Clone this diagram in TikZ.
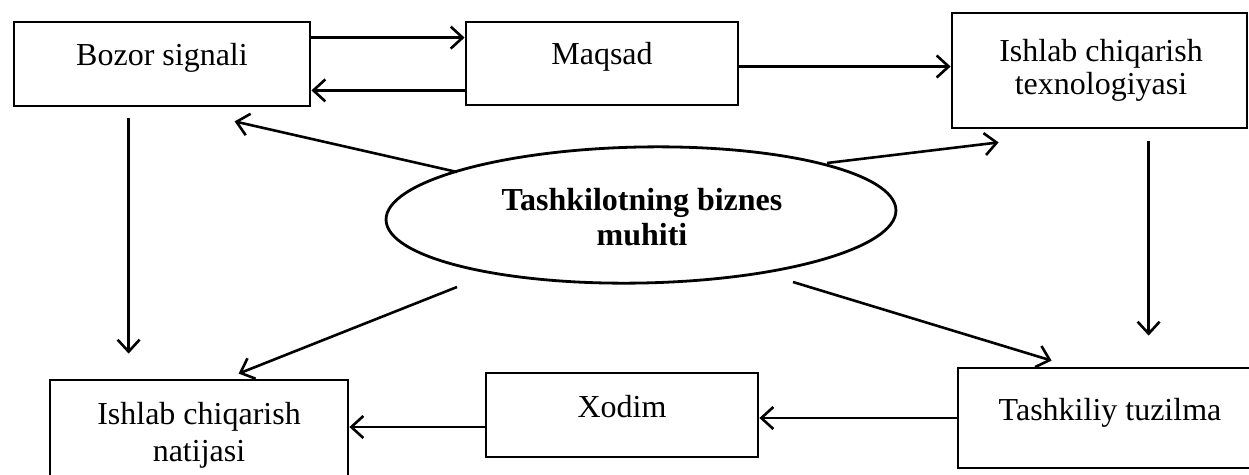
\documentclass[tikz,border=0pt]{standalone}
\usepackage{fontspec}
\setmainfont{Liberation Serif}
\usetikzlibrary{arrows.meta,shapes.geometric,calc}
\begin{document}
\begin{tikzpicture}[x=1pt,y=-1pt,
  box/.style={draw, line width=2.8pt, inner sep=0pt},
  lbl/.style={anchor=base, inner sep=0pt, font=\fontsize{32}{36}\selectfont},
  blbl/.style={lbl, font=\fontsize{32}{36}\selectfont\bfseries},
  arr/.style={line width=2.6pt, -{Straight Barb[length=12pt,width=22pt,line width=2.6pt]}}
]
\path[use as bounding box] (0,0) rectangle (1249,474);
\clip (0,0) rectangle (1249,474);

% boxes
\node[box, minimum width=296pt, minimum height=84pt]  (bozor)    at (162,64)   {};
\node[box, minimum width=272pt, minimum height=83pt]  (maqsad)   at (602,63.5) {};
\node[box, minimum width=295pt, minimum height=115pt] (tex)      at (1099.5,70.5) {};
\node[box, minimum width=298pt, minimum height=110pt] (natijasi) at (199,435)  {};
\node[box, minimum width=272pt, minimum height=84pt]  (xodim)    at (622,415)  {};
\node[box, minimum width=304pt, minimum height=100pt] (tashkiliy) at (1110,418) {};
\node[draw, ellipse, line width=2.8pt, inner sep=0pt, rotate=1.1,
      minimum width=510pt, minimum height=136pt] (env) at (641,215) {};

% labels
\node[lbl] at (162,65)  {Bozor signali};
\node[lbl] at (602,64)  {Maqsad};
\node[lbl] at (1101,61) {Ishlab chiqarish};
\node[lbl] at (1101,94) {texnologiyasi};
\node[lbl] at (199,424) {Ishlab chiqarish};
\node[lbl] at (199,461) {natijasi};
\node[lbl] at (622,417) {Xodim};
\node[lbl] at (1110,420) {Tashkiliy tuzilma};
\node[blbl] at (642,210) {Tashkilotning biznes};
\node[blbl] at (642,245) {muhiti};

% connectors between the top boxes
\draw[arr] ($(bozor.north east)+(0,17)$) -- ($(maqsad.north west)+(0,17)$);
\draw[arr] ($(maqsad.south west)+(0,-16)$) -- ($(bozor.south east)+(0,-17)$);
\coordinate (mq) at ($(maqsad.east)+(0,3)$);
\draw[arr] (mq) -- (mq -| tex.west);

% vertical connectors
\draw[arr] ($(bozor.south west)+(116,11)$) -- ($(natijasi.north west)+(80,-25)$);
\draw[arr] ($(tex.south west)+(198,12)$) -- ($(tashkiliy.north west)+(192,-31)$);

% bottom row
\draw[arr] (tashkiliy.west) -- (tashkiliy.west -| xodim.east);
\coordinate (xw) at ($(xodim.west)+(0,12)$);
\draw[arr] (xw) -- (xw -| natijasi.east);

% from the business environment
\draw[arr] ($(env.center)+(-184,-43)$) -- ($(bozor.south west)+(222,14)$);
\draw[arr] ($(env.center)+(186,-52)$) -- ($(tex.south west)+(48,13)$);
\draw[arr] ($(env.center)+(-184,72)$) -- ($(natijasi.north west)+(190,-5)$);
\draw[arr] ($(env.center)+(152,67)$) -- ($(tashkiliy.north west)+(95,-6)$);
\end{tikzpicture}
\end{document}
